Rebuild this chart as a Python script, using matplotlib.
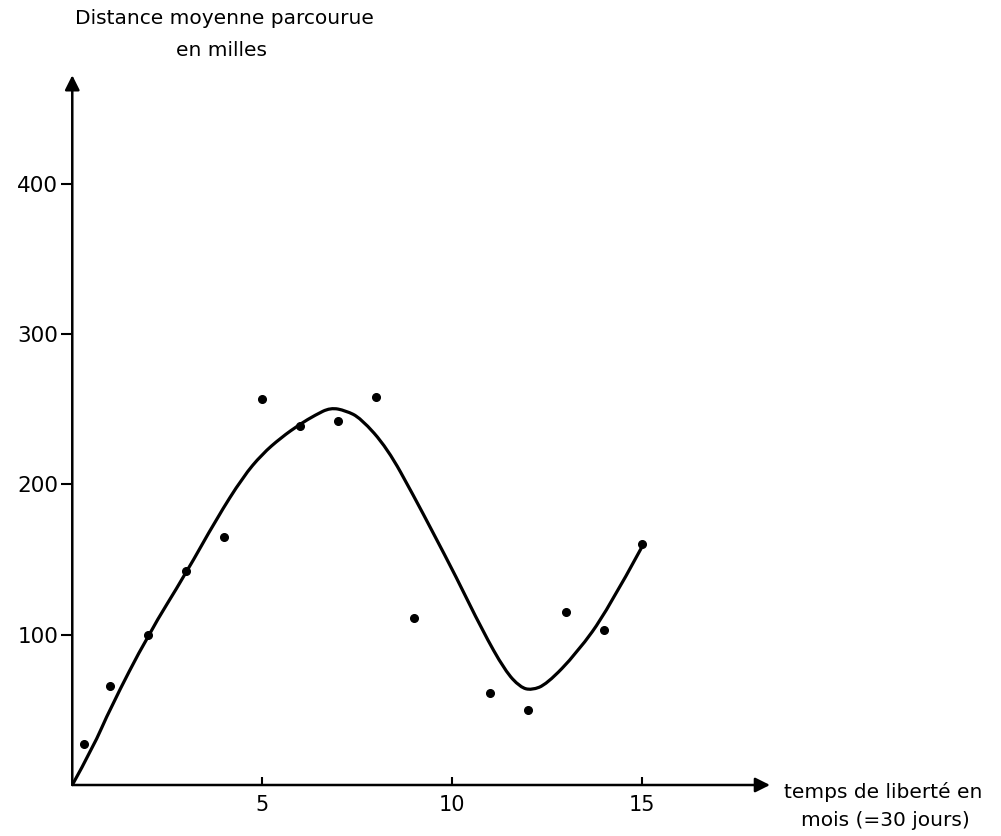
import matplotlib.pyplot as plt
from matplotlib.path import Path
from matplotlib.patches import PathPatch

# Mean distance travelled (miles) vs. months at liberty
months = [0.3, 1, 2, 3, 4, 5, 6, 7, 8, 9, 11, 12, 13, 14, 15]
distance = [27, 66, 100, 142, 165, 257, 239, 242, 258, 111, 61, 50, 115, 103, 160]

# Hand-drawn fitted curve
curve_x = [0, 0.55, 1.0, 2.0, 3.0, 3.8, 4.5, 5.0, 5.5, 6.0, 6.4, 6.8, 7.2, 7.6,
           8.3, 9.0, 9.5, 10.1, 10.8, 11.4, 11.8, 12.1, 12.5, 13.3, 14.1, 15.0]
curve_y = [0, 25, 51, 100, 141, 177, 205, 220, 231, 240, 246, 251, 249, 244,
           224, 192, 168, 139, 103, 76, 65, 63, 67, 88, 116, 158]

x_ticks = [5, 10, 15]
y_ticks = [100, 200, 300, 400]

fig = plt.figure(figsize=(10.01, 8.36), dpi=100)
ax = fig.add_axes([0.0722, 0.061, 0.697, 0.849])
ax.set_xlim(0, 18.38)
ax.set_ylim(0, 472)

for s in ax.spines.values():
    s.set_visible(False)

# axes with arrow heads
arrow = dict(arrowstyle='-|>', color='black', lw=1.8, mutation_scale=22, shrinkA=0, shrinkB=0)
ax.annotate('', xy=(1, 0), xytext=(0, 0), xycoords='axes fraction', arrowprops=arrow)
ax.annotate('', xy=(0, 1), xytext=(0, 0), xycoords='axes fraction', arrowprops=arrow)

# smooth curve: quadratic pieces with the read points as control points
pts = list(zip(curve_x, curve_y))
verts = [pts[0]]
codes = [Path.MOVETO]
for i in range(1, len(pts) - 1):
    end = pts[i + 1] if i == len(pts) - 2 else ((pts[i][0] + pts[i + 1][0]) / 2, (pts[i][1] + pts[i + 1][1]) / 2)
    verts += [pts[i], end]
    codes += [Path.CURVE3, Path.CURVE3]
ax.add_patch(PathPatch(Path(verts, codes), fill=False, edgecolor='black', lw=2.3, capstyle='round'))

ax.plot(months, distance, 'o', color='black', markersize=5.5)

ax.set_xticks(x_ticks)
ax.set_xticklabels([str(t) for t in x_ticks], fontsize=15)
ax.set_yticks(y_ticks)
ax.set_yticklabels([str(t) for t in y_ticks], fontsize=15.5)
ax.tick_params(axis='x', direction='in', length=6, width=1.5, pad=7)
ax.tick_params(axis='y', direction='out', length=8, width=1.5, pad=2)

fig.text(0.224, 0.978, 'Distance moyenne parcourue', ha='center', va='center', fontsize=14.5)
fig.text(0.221, 0.940, 'en milles', ha='center', va='center', fontsize=14.5)
fig.text(0.882, 0.053, 'temps de liberté en', ha='center', va='center', fontsize=14.5)
fig.text(0.884, 0.019, 'mois (=30 jours)', ha='center', va='center', fontsize=14.5)

fig.savefig('out.png', dpi=100)
